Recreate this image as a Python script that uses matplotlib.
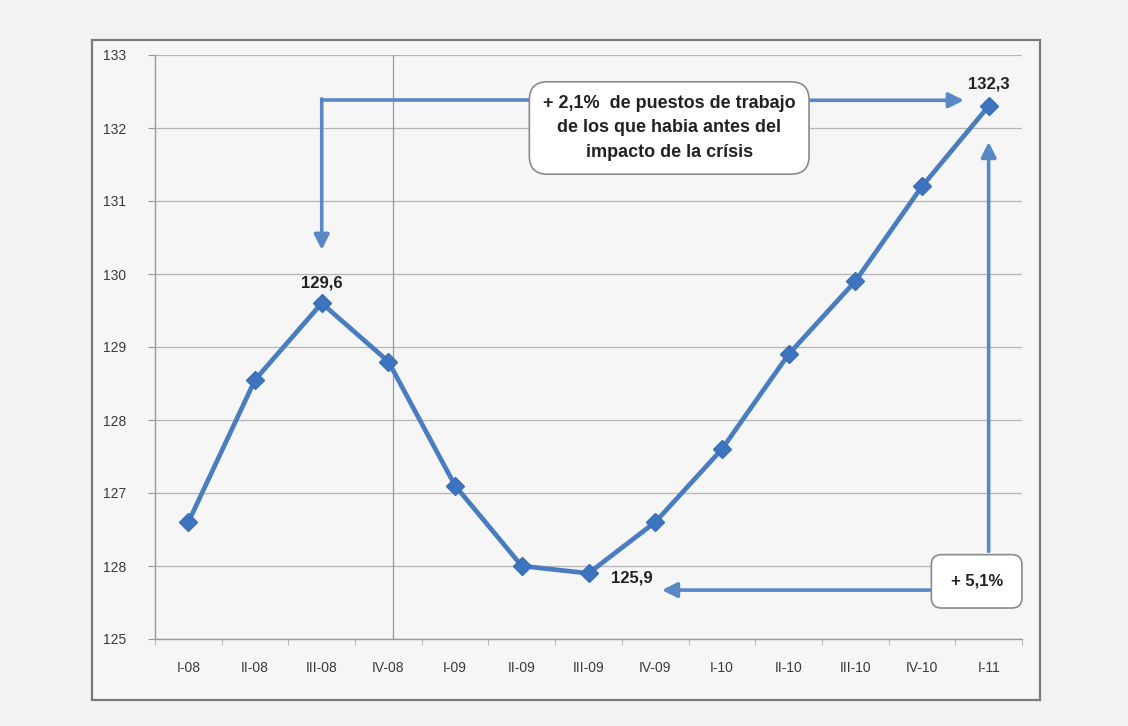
import matplotlib
matplotlib.use("Agg")
import matplotlib.pyplot as plt
from matplotlib.patches import Rectangle
import numpy as np

categories = ["I-08", "II-08", "III-08", "IV-08", "I-09", "II-09", "III-09",
              "IV-09", "I-10", "II-10", "III-10", "IV-10", "I-11"]
values = [126.6, 128.55, 129.6, 128.8, 127.1, 126.0, 125.9,
          126.6, 127.6, 128.9, 129.9, 131.2, 132.3]
ytick_values = [125, 126, 127, 128, 129, 130, 131, 132, 133]
ytick_labels = ["125", "128", "127", "128", "129", "130", "131", "132", "133"]
box1_text = "+ 2,1%  de puestos de trabajo\nde los que habia antes del\nimpacto de la crísis"
box2_text = "+ 5,1%"

plt.rcParams['font.family'] = ['Liberation Sans', 'DejaVu Sans']

BG = "#f2f2f2"
BLUE = "#4a7cc0"
ARROW = "#5a88c6"

fig = plt.figure(figsize=(11.28, 7.26), dpi=100, facecolor=BG)

# outer chart frame
W, H = 1128, 726
frame = Rectangle((92 / W, 1 - 700 / H), (1040 - 92) / W, (700 - 40) / H,
                  transform=fig.transFigure, facecolor="#f6f6f6",
                  edgecolor="#7a7a7a", linewidth=1.6, zorder=-10)
fig.patches.append(frame)

ax = fig.add_axes([155 / W, 1 - 639 / H, (1022 - 155) / W, (639 - 55) / H])
ax.set_zorder(5)
ax.set_facecolor("#f6f6f6")
x = np.arange(len(categories))
ax.set_xlim(-0.46, 12.48)
ax.set_ylim(125, 133)

ax.set_yticks(ytick_values)
ax.set_yticklabels(ytick_labels, fontsize=10, color="#3a3a3a")
ax.set_xticks(x)
ax.set_xticklabels(categories, fontsize=10, color="#3a3a3a")
ax.tick_params(axis="x", length=0, pad=16)
ax.tick_params(axis="y", length=5, color="#999999", pad=16)
ax.set_xticks(np.arange(-0.5, 12.6, 1), minor=True)
ax.tick_params(axis="x", which="minor", length=4, color="#aaaaaa")

ax.grid(axis="y", color="#b5b5b5", linewidth=0.9)
ax.set_axisbelow(True)
for s in ["top", "right"]:
    ax.spines[s].set_visible(False)
for s in ["left", "bottom"]:
    ax.spines[s].set_color("#999999")
    ax.spines[s].set_linewidth(1.0)

# crisis divider
ax.axvline(3.07, color="#999999", linewidth=0.9, zorder=1)

ax.plot(x, values, color=BLUE, linewidth=3.4, marker="D", markersize=9,
        markerfacecolor="#3d74c0", markeredgecolor="#3a6fb8", zorder=4,
        solid_capstyle="round", solid_joinstyle="round")

# value labels
lab = dict(ha="center", va="center", fontsize=12, fontweight="bold", color="#222222")
ax.text(2, 129.88, "129,6", **lab)
ax.text(6.65, 125.84, "125,9", **lab)
ax.text(12.0, 132.6, "132,3", **lab)

arrowprops = dict(arrowstyle="-|>,head_length=0.9,head_width=0.45",
                  color=ARROW, linewidth=2.6, shrinkA=0, shrinkB=0)
lineprops = dict(color=ARROW, linewidth=2.6, solid_capstyle="butt")

# elbow arrow to III-08
ax.plot([7.0, 2.0], [132.38, 132.38], zorder=5, **lineprops)
ax.annotate("", xy=(2.0, 130.33), xytext=(2.0, 132.40),
            arrowprops=arrowprops, zorder=5)
# arrow right to I-11
ax.annotate("", xy=(11.63, 132.38), xytext=(9.0, 132.38),
            arrowprops=arrowprops, zorder=5)
# vertical arrow up to I-11
ax.annotate("", xy=(12.0, 131.81), xytext=(12.0, 126.2),
            arrowprops=arrowprops, zorder=5)
# horizontal arrow to III-09
ax.annotate("", xy=(7.1, 125.67), xytext=(11.4, 125.67),
            arrowprops=arrowprops, zorder=5)

# text boxes
ax.text(7.21, 132.0, box1_text, ha="center", va="center", fontsize=13,
        fontweight="bold", color="#222222", linespacing=1.55, zorder=6,
        bbox=dict(boxstyle="round,pad=0.75,rounding_size=1.0",
                  facecolor="white", edgecolor="#8a8a8a", linewidth=1.2))
ax.text(11.82, 125.79, box2_text, ha="center", va="center", fontsize=12,
        fontweight="bold", color="#222222", zorder=6, linespacing=1.0,
        bbox=dict(boxstyle="round,pad=1.15,rounding_size=0.6",
                  facecolor="white", edgecolor="#8a8a8a", linewidth=1.2))

fig.savefig("out.png", dpi=100, facecolor=BG)
